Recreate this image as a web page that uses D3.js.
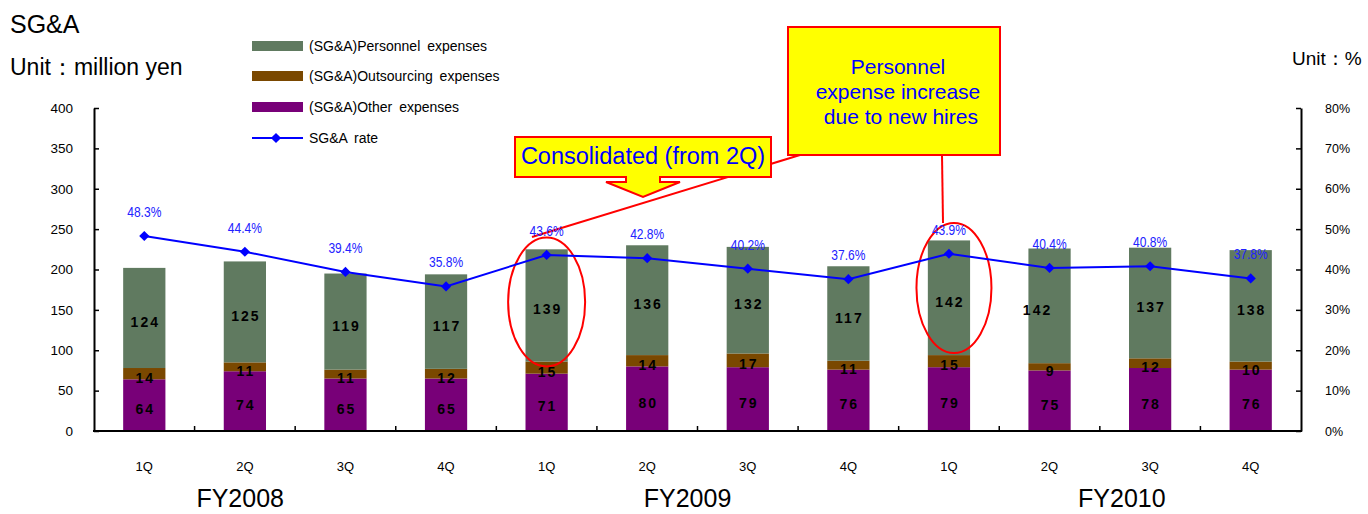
<!DOCTYPE html>
<html>
<head>
<meta charset="utf-8">
<script src="https://cdn.jsdelivr.net/npm/d3@7"></script>
<style>
  html, body { margin: 0; padding: 0; background: #fff; }
  svg { display: block; font-family: "Liberation Sans", Arial, sans-serif; }
</style>
</head>
<body>
<svg id="chart" width="1368" height="514"></svg>
<script>
// Quarterly SG&A breakdown, FY2008–FY2010
const quarters = ["1Q", "2Q", "3Q", "4Q", "1Q", "2Q", "3Q", "4Q", "1Q", "2Q", "3Q", "4Q"];
const fiscalYears = ["FY2008", "FY2009", "FY2010"];
const otherExpenses = [64, 74, 65, 65, 71, 80, 79, 76, 79, 75, 78, 76];
const outsourcingExpenses = [14, 11, 11, 12, 15, 14, 17, 11, 15, 9, 12, 10];
const personnelExpenses = [124, 125, 119, 117, 139, 136, 132, 117, 142, 142, 137, 138];
const sgaRate = [48.3, 44.4, 39.4, 35.8, 43.6, 42.8, 40.2, 37.6, 43.9, 40.4, 40.8, 37.8];
const leftTicks = [0, 50, 100, 150, 200, 250, 300, 350, 400];
const rightTicks = [0, 10, 20, 30, 40, 50, 60, 70, 80];

const seriesNames = ["(SG&A)Personnel expenses", "(SG&A)Outsourcing expenses", "(SG&A)Other expenses", "SG&A rate"];
const colors = { personnel: "#607A60", outsourcing: "#7A4800", other: "#780078", rate: "#0000FF" };

const svg = d3.select("#chart");
const plotLeft = 94, plotRight = 1301, plotTop = 108, plotBottom = 431;

const x = d3.scaleBand().domain(d3.range(quarters.length)).range([plotLeft, plotRight])
  .paddingInner(0.58).paddingOuter(0.29);
const y = d3.scaleLinear().domain([0, 400]).range([plotBottom, plotTop]);
const yR = d3.scaleLinear().domain([0, 80]).range([plotBottom, plotTop]);
const cx = i => x(i) + x.bandwidth() / 2;

// stacked bars: other (bottom), outsourcing, personnel (top)
const rows = quarters.map((q, i) => ({
  i, other: otherExpenses[i], outsourcing: outsourcingExpenses[i], personnel: personnelExpenses[i]
}));
const stack = d3.stack().keys(["other", "outsourcing", "personnel"]);
const layers = stack(rows);

const barG = svg.append("g");
layers.forEach(layer => {
  barG.selectAll(null).data(layer).enter().append("rect")
    .attr("x", d => x(d.data.i))
    .attr("width", x.bandwidth())
    .attr("y", d => y(d[1]))
    .attr("height", d => y(d[0]) - y(d[1]))
    .attr("fill", colors[layer.key]);
});

// segment value labels
const labelShift = { personnel: { 9: -13 } };
layers.forEach(layer => {
  barG.selectAll(null).data(layer).enter().append("text")
    .attr("x", d => cx(d.data.i) + ((labelShift[layer.key] || {})[d.data.i] || 0) + 1)
    .attr("y", d => (y(d[0]) + y(d[1])) / 2 + 9)
    .attr("text-anchor", "middle")
    .attr("font-size", 14)
    .attr("font-weight", "bold")
    .attr("letter-spacing", 2)
    .attr("fill", "#000")
    .text(d => d.data[layer.key]);
});

// axes
const axL = d3.axisLeft(y).tickValues(leftTicks).tickSizeInner(-5).tickSizeOuter(0).tickPadding(21);
const gL = svg.append("g").attr("transform", `translate(${plotLeft},0)`).call(axL);
const axR = d3.axisRight(yR).tickValues(rightTicks).tickSizeInner(-5).tickSizeOuter(0).tickPadding(24)
  .tickFormat(d => d + "%");
const gR = svg.append("g").attr("transform", `translate(${plotRight},0)`).call(axR);
[gL, gR].forEach(g => {
  g.select(".domain").attr("stroke", "#000").attr("stroke-width", 2);
  g.selectAll(".tick line").attr("stroke", "#000").attr("stroke-width", 1.5);
  g.selectAll(".tick text").attr("font-size", 13.5).attr("fill", "#000")
    .attr("font-family", "Liberation Sans, Arial, sans-serif");
});
gR.selectAll(".tick text").attr("font-size", 12.5);

// category axis
svg.append("line").attr("x1", plotLeft - 1).attr("x2", plotRight + 1).attr("y1", plotBottom).attr("y2", plotBottom)
  .attr("stroke", "#000").attr("stroke-width", 2);
svg.selectAll(null).data(d3.range(1, quarters.length)).enter().append("line")
  .attr("x1", i => x(i) - x.step() * x.paddingInner() / 2)
  .attr("x2", i => x(i) - x.step() * x.paddingInner() / 2)
  .attr("y1", plotBottom).attr("y2", plotBottom - 5)
  .attr("stroke", "#000").attr("stroke-width", 1.5);
svg.selectAll(null).data(quarters).enter().append("text")
  .attr("x", (d, i) => cx(i))
  .attr("y", 471)
  .attr("text-anchor", "middle")
  .attr("font-size", 13)
  .text(d => d);
const fyOffsets = [-55, -10, 22];
svg.selectAll(null).data(fiscalYears).enter().append("text")
  .attr("x", (d, k) => (cx(k * 4 + 1) + cx(k * 4 + 2)) / 2 + fyOffsets[k])
  .attr("y", 507)
  .attr("text-anchor", "middle")
  .attr("font-size", 25)
  .text(d => d);

// annotations drawn behind the rate line
const ann = svg.append("g");
ann.append("line").attr("x1", 800).attr("y1", 155).attr("x2", 532).attr("y2", 237)
  .attr("stroke", "#FF0000").attr("stroke-width", 2);
ann.append("line").attr("x1", 942).attr("y1", 155).attr("x2", 943).attr("y2", 223)
  .attr("stroke", "#FF0000").attr("stroke-width", 2);
[[cx(4), 302, 38.5, 64.5], [cx(8) + 5, 288, 37.5, 65]].forEach(([ex, ey, rx, ry]) => {
  ann.append("ellipse").attr("cx", ex).attr("cy", ey).attr("rx", rx).attr("ry", ry)
    .attr("fill", "none").attr("stroke", "#FF0000").attr("stroke-width", 2);
});

// SG&A rate line with diamond markers
const line = d3.line().x((d, i) => cx(i)).y(d => yR(d));
svg.append("path").datum(sgaRate).attr("d", line)
  .attr("fill", "none").attr("stroke", colors.rate).attr("stroke-width", 2);
const diamond = d3.symbol().type(d3.symbolSquare).size(52);
svg.selectAll(null).data(sgaRate).enter().append("path")
  .attr("d", diamond)
  .attr("transform", (d, i) => `translate(${cx(i)},${yR(d)}) rotate(45)`)
  .attr("fill", colors.rate);
svg.selectAll(null).data(sgaRate).enter().append("text")
  .attr("transform", (d, i) => `translate(${cx(i)},${yR(d) - 19}) scale(0.86,1)`)
  .attr("text-anchor", "middle")
  .attr("font-size", 14)
  .attr("fill", "#2222FF")
  .text(d => d.toFixed(1) + "%");

// callout: consolidated
const c1 = svg.append("g");
c1.append("path")
  .attr("d", "M515,137 H771 V177 H660 V182 H680 L643,197 L606,182 H626 V177 H515 Z")
  .attr("fill", "#FFFF00").attr("stroke", "#FF0000").attr("stroke-width", 2).attr("stroke-linejoin", "miter");
c1.append("text").attr("x", 643).attr("y", 164).attr("text-anchor", "middle")
  .attr("font-size", 23.5).attr("fill", "#0000FF").text("Consolidated (from 2Q)");

// callout: personnel expense increase
const c2 = svg.append("g");
c2.append("rect").attr("x", 788).attr("y", 27).attr("width", 212).attr("height", 128)
  .attr("fill", "#FFFF00").attr("stroke", "#FF0000").attr("stroke-width", 2);
["Personnel", "expense increase", " due to new hires"].forEach((t, k) => {
  c2.append("text").attr("x", 898).attr("y", 74 + k * 25).attr("text-anchor", "middle")
    .attr("font-size", 21).attr("fill", "#0000FF").attr("xml:space", "preserve").text(t);
});

// titles
svg.append("text").attr("x", 10).attr("y", 33).attr("font-size", 25).text("SG&A");
svg.append("text").attr("x", 10).attr("y", 75).attr("font-size", 23).text("Unit：million yen");
svg.append("text").attr("x", 1292).attr("y", 65).attr("font-size", 19).text("Unit：%");

// legend
const lg = svg.append("g");
const legendY = [46, 76, 107, 138];
const swatchColors = [colors.personnel, colors.outsourcing, colors.other];
swatchColors.forEach((c, k) => {
  lg.append("rect").attr("x", 252).attr("y", legendY[k] - 5).attr("width", 51).attr("height", 10).attr("fill", c);
});
lg.append("line").attr("x1", 252).attr("x2", 303).attr("y1", legendY[3]).attr("y2", legendY[3])
  .attr("stroke", colors.rate).attr("stroke-width", 2);
lg.append("path").attr("d", diamond).attr("transform", `translate(276,${legendY[3]}) rotate(45)`).attr("fill", colors.rate);
seriesNames.forEach((t, k) => {
  lg.append("text").attr("x", 309).attr("y", legendY[k] + 5)
    .attr("font-size", 14).attr("word-spacing", 3).text(t);
});
</script>
</body>
</html>
